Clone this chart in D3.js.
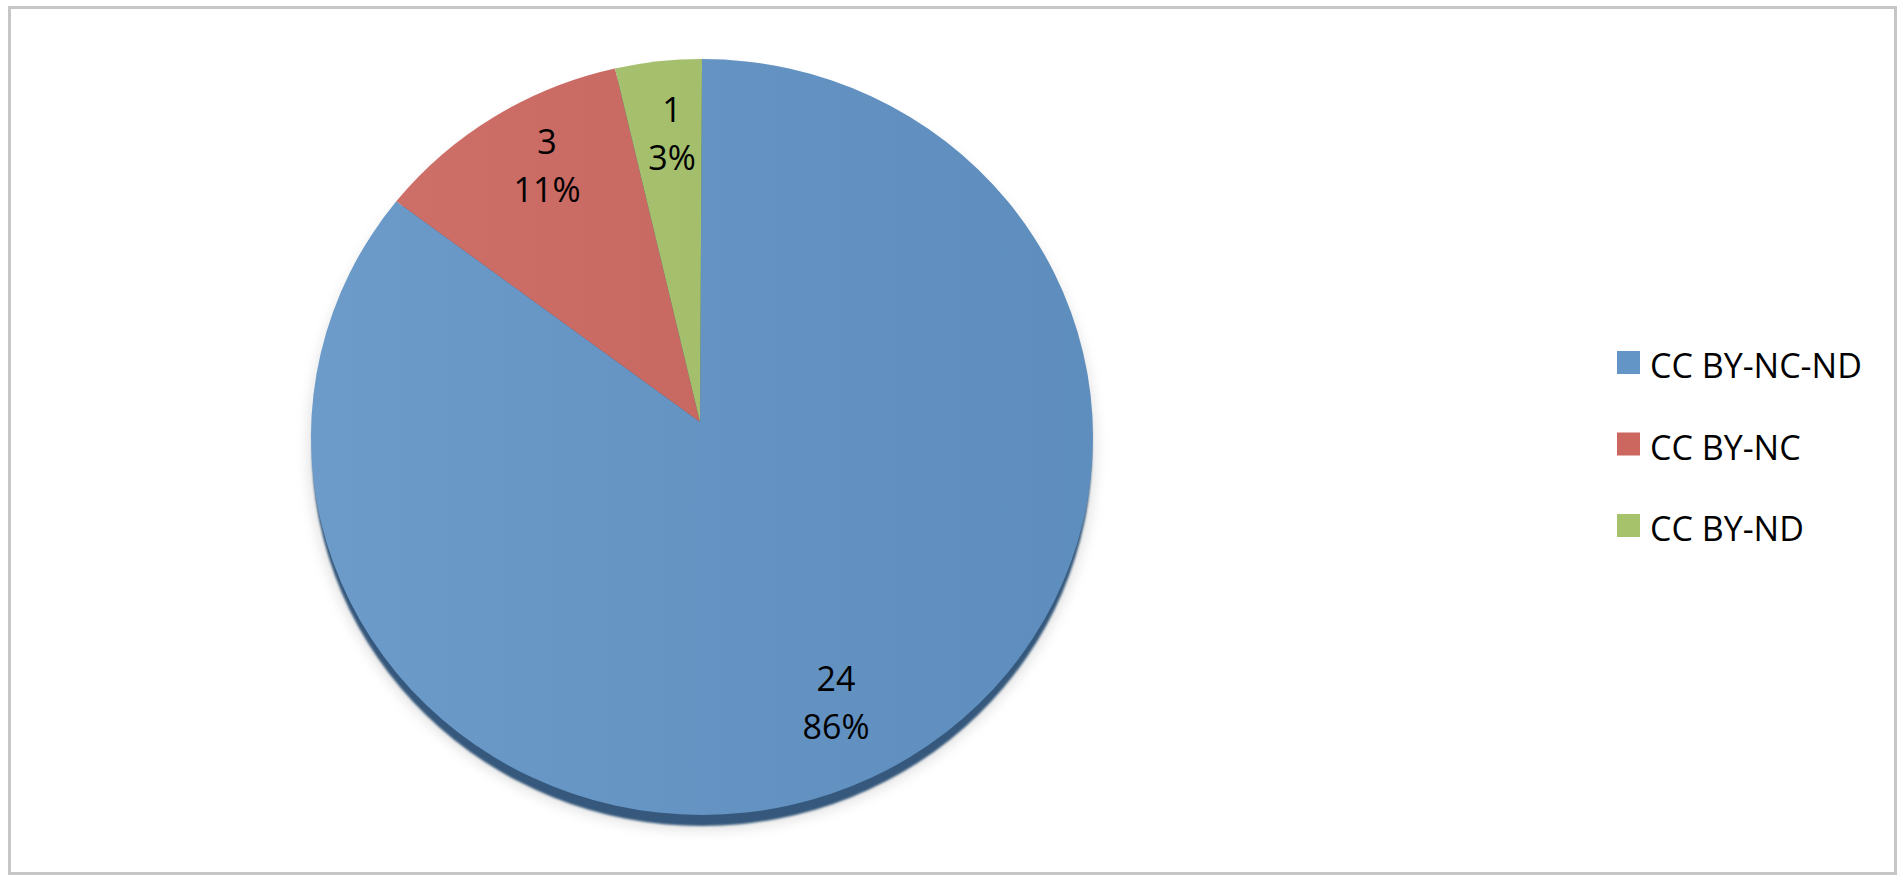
<!DOCTYPE html>
<html>
<head>
<meta charset="utf-8">
<script src="https://cdn.jsdelivr.net/npm/d3@7"></script>
<style>
  body { margin: 0; background: #fff; }
  svg { display: block; }
</style>
</head>
<body>
<div id="chart"></div>
<script>
// licence types and how many items use each
var labels = ["CC BY-NC-ND", "CC BY-NC", "CC BY-ND"];
var counts = [24, 3, 1];
var percents = ["86%", "11%", "3%"];   // as printed on the chart
var colors = ["#6395c7", "#cc6760", "#a6c26b"];

var width = 1903, height = 881;
var cx = 702, cy = 437, rx = 391, ry = 378;   // pie is a bit tilted, so it's an ellipse
var apex = {x: 700, y: 422};

var svg = d3.select("#chart").append("svg")
    .attr("width", width)
    .attr("height", height);

// frame
svg.append("rect")
    .attr("x", 9.5).attr("y", 7.5)
    .attr("width", 1886).attr("height", 866)
    .attr("fill", "#fff")
    .attr("stroke", "#c6c6c6")
    .attr("stroke-width", 3);

var defs = svg.append("defs");
defs.append("filter").attr("id", "blur")
    .attr("x", "-10%").attr("y", "-10%").attr("width", "120%").attr("height", "120%")
  .append("feGaussianBlur").attr("stdDeviation", 6);
defs.append("filter").attr("id", "soft")
  .append("feGaussianBlur").attr("stdDeviation", 1.2);

var grad = defs.append("linearGradient").attr("id", "shine")
    .attr("x1", "0%").attr("y1", "0%").attr("x2", "100%").attr("y2", "0%");
grad.append("stop").attr("offset", "0%").attr("stop-color", "#fff").attr("stop-opacity", 0.06);
grad.append("stop").attr("offset", "100%").attr("stop-color", "#000").attr("stop-opacity", 0.05);

// soft grey shadow + dark rim under the pie
svg.append("ellipse")
    .attr("cx", cx).attr("cy", cy + 12)
    .attr("rx", rx + 4).attr("ry", ry + 4)
    .attr("fill", "#b8b8b8").attr("opacity", 0.35)
    .attr("filter", "url(#blur)");
svg.append("ellipse")
    .attr("cx", cx).attr("cy", cy + 11)
    .attr("rx", rx - 1).attr("ry", ry)
    .attr("fill", "#36587c")
    .attr("filter", "url(#soft)");

var pie = d3.pie().sort(null).value(function(d) { return d; });
var arcs = pie(counts);

function pt(a, kx, ky) {
  return [cx + kx * rx * Math.sin(a), cy - ky * ry * Math.cos(a)];
}

function slicePath(d) {
  var p0 = pt(d.startAngle, 1, 1), p1 = pt(d.endAngle, 1, 1);
  var large = (d.endAngle - d.startAngle) > Math.PI ? 1 : 0;
  return "M" + apex.x + "," + apex.y +
         "L" + p0[0] + "," + p0[1] +
         "A" + rx + "," + ry + " 0 " + large + " 1 " + p1[0] + "," + p1[1] + "Z";
}

svg.append("g")
  .selectAll("path")
  .data(arcs)
  .enter()
  .append("path")
    .attr("d", slicePath)
    .attr("fill", function(d, i) { return colors[i]; });

// slight left-to-right shading over the whole pie
svg.append("ellipse")
    .attr("cx", cx).attr("cy", cy)
    .attr("rx", rx).attr("ry", ry)
    .attr("fill", "url(#shine)");

// how far out along the mid angle each label sits (x and y)
var kx = [0.79, 0.745, 0.685];
var ky = [0.78, 0.846, 0.806];

var lab = svg.append("g")
    .attr("font-family", "'Open Sans', sans-serif")
    .attr("font-size", 34)
    .attr("fill", "#000")
    .attr("text-anchor", "middle");

arcs.forEach(function(d, i) {
  var mid = (d.startAngle + d.endAngle) / 2;
  var p = pt(mid, kx[i], ky[i]);
  var t = lab.append("text").attr("x", p[0]).attr("y", p[1] - 12);
  t.append("tspan").attr("x", p[0]).text(d.data);
  t.append("tspan").attr("x", p[0]).attr("dy", 48).text(percents[i]);
});

// legend
var legend = svg.append("g")
  .selectAll("g")
  .data(labels)
  .enter()
  .append("g")
    .attr("transform", function(d, i) { return "translate(1617," + (351 + i * 81.5) + ")"; });

legend.append("rect")
    .attr("width", 23).attr("height", 23)
    .attr("fill", function(d, i) { return colors[i]; });

legend.append("text")
    .attr("x", 33).attr("y", 27)
    .attr("font-family", "'Open Sans', sans-serif")
    .attr("font-size", 34)
    .attr("fill", "#000")
    .text(function(d) { return d; });
</script>
</body>
</html>
